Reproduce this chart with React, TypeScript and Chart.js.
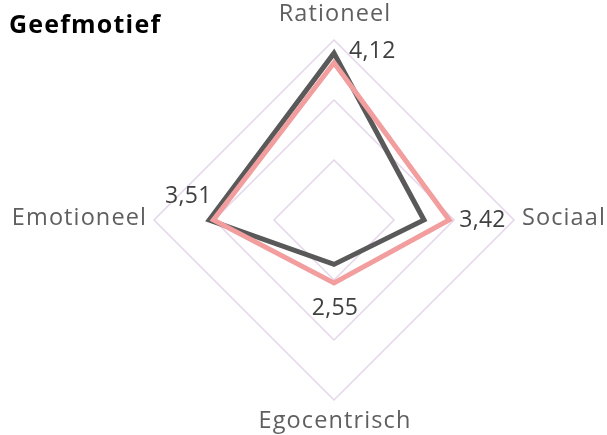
import React, { useEffect, useRef } from "react";
import { Chart, registerables } from "chart.js";

Chart.register(...registerables);

const categories = ["Rationeel", "Sociaal", "Egocentrisch", "Emotioneel"];
const seriesPink = [4.12, 3.42, 2.55, 3.51];
const seriesDark = [4.28, 3.0, 2.24, 3.58];
const valueLabels = ["4,12", "3,42", "2,55", "3,51"];
const titleText = "Geefmotief";

const FONT = "'Open Sans', sans-serif";

function setSpacing(ctx: any, px: number) {
  if ("letterSpacing" in ctx) ctx.letterSpacing = px + "px";
}

const labelPlugin = {
  id: "customLabels",
  afterDraw(chart: any) {
    const ctx = chart.ctx;
    const scale = chart.scales.r;
    ctx.save();
    // title
    ctx.fillStyle = "#000000";
    ctx.font = `bold 25px ${FONT}`;
    setSpacing(ctx, 1.2);
    ctx.textAlign = "left";
    ctx.textBaseline = "alphabetic";
    ctx.fillText(titleText, 9, 33);

    // point labels
    ctx.fillStyle = "#5F5F5F";
    ctx.font = `23.5px ${FONT}`;
    setSpacing(ctx, 1.1);
    ctx.textBaseline = "middle";
    const outer = scale.drawingArea;
    categories.forEach((c, i) => {
      const p = scale.getPointPosition(i, outer);
      if (i === 0) {
        ctx.textAlign = "center";
        ctx.fillText(c, p.x + 1, p.y - 26);
      } else if (i === 1) {
        ctx.textAlign = "left";
        ctx.fillText(c, p.x + 8, p.y - 2);
      } else if (i === 2) {
        ctx.textAlign = "center";
        ctx.fillText(c, p.x + 1, p.y + 21);
      } else {
        ctx.textAlign = "right";
        ctx.fillText(c, p.x - 7, p.y - 2);
      }
    });

    // value labels on pink series
    const meta = chart.getDatasetMeta(0);
    ctx.fillStyle = "#404040";
    ctx.font = `23px ${FONT}`;
    setSpacing(ctx, 0.3);
    valueLabels.forEach((t, i) => {
      const pt = meta.data[i];
      if (i === 0) {
        ctx.textAlign = "left";
        ctx.fillText(t, pt.x + 15, pt.y - 11);
      } else if (i === 1) {
        ctx.textAlign = "left";
        ctx.fillText(t, pt.x + 10, pt.y);
      } else if (i === 2) {
        ctx.textAlign = "center";
        ctx.fillText(t, pt.x + 1, pt.y + 25);
      } else {
        ctx.textAlign = "center";
        ctx.fillText(t, pt.x - 25, pt.y - 24);
      }
    });
    ctx.restore();
  },
};

export default function App() {
  const ref = useRef<HTMLCanvasElement | null>(null);
  useEffect(() => {
    if (!ref.current) return;
    const chart = new Chart(ref.current, {
      type: "radar",
      data: {
        labels: categories,
        datasets: [
          {
            label: "Roze",
            data: seriesPink,
            borderColor: "#F29D9E",
            backgroundColor: "transparent",
            borderWidth: 5,
            pointRadius: 0,
            fill: false,
          },
          {
            label: "Grijs",
            data: seriesDark,
            borderColor: "#595959",
            backgroundColor: "transparent",
            borderWidth: 5,
            pointRadius: 0,
            fill: false,
          },
        ],
      },
      options: {
        animation: false,
        responsive: false,
        maintainAspectRatio: false,
        layout: { padding: { left: 154, right: 93, top: 40, bottom: 35 } },
        plugins: { legend: { display: false }, tooltip: { enabled: false }, title: { display: false } },
        scales: {
          r: {
            min: 1.5,
            max: 4.5,
            ticks: { display: false, stepSize: 1 },
            grid: { color: "#E4D5EA", lineWidth: 1.5 },
            angleLines: { display: false },
            pointLabels: { display: false },
          },
        },
      },
      plugins: [labelPlugin],
    });
    return () => chart.destroy();
  }, []);
  return (
    <div style={{ position: "fixed", left: 0, top: 0, width: 607, height: 435, background: "#fff" }}>
      <canvas ref={ref} width={607} height={435} style={{ width: 607, height: 435 }} />
    </div>
  );
}
